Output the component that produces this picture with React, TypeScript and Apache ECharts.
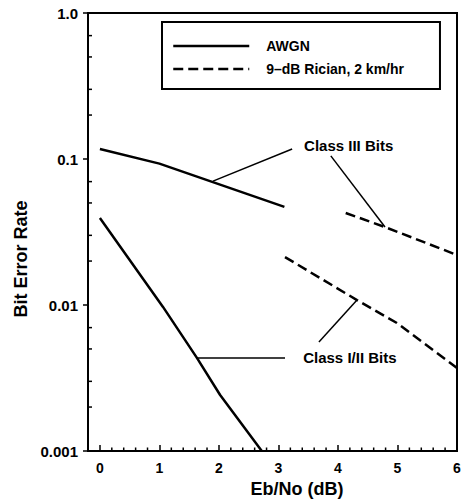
import React, { useEffect, useRef } from "react";
import * as echarts from "echarts";

const FONT = "'Liberation Sans', Arial, Helvetica, sans-serif";

// axes
const xMin = -0.2;
const xMax = 6;
const xTickValues = [0, 1, 2, 3, 4, 5, 6];
const xMinorTicks = [
  0.2, 0.4, 0.6, 0.8, 1.2, 1.4, 1.6, 1.8, 2.2, 2.4, 2.6, 2.8,
  3.2, 3.4, 3.6, 3.8, 4.2, 4.4, 4.6, 4.8, 5.2, 5.4, 5.6, 5.8,
];
const yMin = 0.001;
const yMax = 1;
const yTickLabels = ["0.001", "0.01", "0.1", "1.0"];
const yMinorTicks = [0.002, 0.003, 0.005, 0.007, 0.02, 0.03, 0.05, 0.07, 0.2, 0.3, 0.5, 0.7];

// legend names
const awgnName = "AWGN";
const ricianName = "9–dB Rician, 2 km/hr";

// curves
const awgnClass3X = [0, 1, 3.1];
const awgnClass3Y = [0.117, 0.093, 0.047];
const awgnClass12X = [0, 1.06, 1.63, 2.02, 2.72];
const awgnClass12Y = [0.0394, 0.0097, 0.00434, 0.00242, 0.001];
const ricianClass3X = [4.13, 4.79, 6];
const ricianClass3Y = [0.0427, 0.0342, 0.022];
const ricianClass12X = [3.11, 4.32, 4.99, 6];
const ricianClass12Y = [0.0213, 0.0108, 0.00753, 0.0037];

// annotation leaders
const leaderAX = [1.9, 3.23];
const leaderAY = [0.0705, 0.117];
const leaderBX = [3.88, 4.79];
const leaderBY = [0.105, 0.0342];
const leaderCX = [1.63, 3.11];
const leaderCY = [0.00434, 0.00434];
const leaderDX = [3.68, 4.32];
const leaderDY = [0.00558, 0.0108];

// annotation labels
const noteText = ["Class III Bits", "Class I/II Bits"];
const noteX = [4.18, 4.2];
const noteY = [0.1247, 0.0044];

const zip = (xs: number[], ys: number[]) => xs.map((x, i) => [x, ys[i]]);

export default function App() {
  const ref = useRef<HTMLDivElement>(null);
  useEffect(() => {
    if (!ref.current) return;
    const chart = echarts.init(ref.current, undefined, { renderer: "svg" });
    const curve = (name: string, xs: number[], ys: number[], dashed: boolean) => ({
      type: "line",
      name,
      data: zip(xs, ys),
      symbol: "none",
      silent: true,
      lineStyle: { color: "#000", width: 2.5, type: dashed ? [10, 5] : "solid" },
      itemStyle: { color: "#000" },
      z: 3,
    });
    const leader = (name: string, xs: number[], ys: number[]) => ({
      type: "line",
      name,
      data: zip(xs, ys),
      symbol: "none",
      silent: true,
      lineStyle: { color: "#000", width: 1.5 },
      z: 2,
    });
    chart.setOption({
      animation: false,
      backgroundColor: "#fff",
      textStyle: { fontFamily: FONT },
      grid: {
        left: 88,
        right: 7,
        top: 13,
        bottom: 49,
        show: true,
        borderColor: "#000",
        borderWidth: 2,
      },
      legend: {
        data: [awgnName, ricianName],
        orient: "vertical",
        left: 162,
        top: 22,
        itemWidth: 76,
        itemHeight: 14,
        itemGap: 9,
        padding: [17, 36, 13, 10],
        borderColor: "#000",
        borderWidth: 2,
        selectedMode: false,
        itemStyle: { opacity: 0 },
        lineStyle: { width: 2.5 },
        textStyle: {
          fontFamily: FONT,
          fontSize: 14,
          fontWeight: "bold",
          color: "#000",
          padding: [0, 0, 0, 12],
        },
      },
      xAxis: {
        type: "value",
        min: xMin,
        max: xMax,
        axisLine: { show: true, onZero: false, lineStyle: { color: "#000", width: 2 } },
        axisTick: {
          show: true,
          inside: true,
          length: 6,
          customValues: xTickValues,
          lineStyle: { color: "#000", width: 1.5 },
        },
        axisLabel: {
          customValues: xTickValues,
          margin: 10,
          color: "#000",
          fontFamily: FONT,
          fontSize: 14,
          fontWeight: "bold",
        },
        splitLine: { show: false },
      },
      yAxis: {
        type: "log",
        logBase: 10,
        min: yMin,
        max: yMax,
        axisLine: { show: true, onZero: false, lineStyle: { color: "#000", width: 2 } },
        axisTick: { show: true, inside: false, length: 5, lineStyle: { color: "#000", width: 1.5 } },
        axisLabel: {
          margin: 10,
          color: "#000",
          fontFamily: FONT,
          fontSize: 15,
          fontWeight: "bold",
          formatter: (v: number) => {
            const e = Math.round(Math.log10(v));
            return yTickLabels[e + 3] ?? "";
          },
        },
        splitLine: { show: false },
      },
      series: [
        curve(awgnName, awgnClass3X, awgnClass3Y, false),
        curve(awgnName, awgnClass12X, awgnClass12Y, false),
        curve(ricianName, ricianClass3X, ricianClass3Y, true),
        curve(ricianName, ricianClass12X, ricianClass12Y, true),
        leader("leaderA", leaderAX, leaderAY),
        leader("leaderB", leaderBX, leaderBY),
        leader("leaderC", leaderCX, leaderCY),
        leader("leaderD", leaderDX, leaderDY),
        {
          type: "custom",
          name: "yMinor",
          silent: true,
          data: yMinorTicks.map((v) => [xMin, v]),
          renderItem: (_p: any, api: any) => {
            const pt = api.coord([xMin, api.value(1)]);
            return {
              type: "line",
              shape: { x1: pt[0], y1: pt[1], x2: pt[0] + 4, y2: pt[1] },
              style: { stroke: "#000", lineWidth: 1.5 },
            };
          },
          z: 4,
        },
        {
          type: "custom",
          name: "xMinor",
          silent: true,
          data: xMinorTicks.map((v) => [v, yMin]),
          renderItem: (_p: any, api: any) => {
            const pt = api.coord([api.value(0), yMin]);
            return {
              type: "line",
              shape: { x1: pt[0], y1: pt[1], x2: pt[0], y2: pt[1] - 3.5 },
              style: { stroke: "#000", lineWidth: 1.5 },
            };
          },
          z: 4,
        },
        {
          type: "custom",
          name: "notes",
          silent: true,
          data: noteX.map((x, i) => [x, noteY[i], i]),
          renderItem: (_p: any, api: any) => {
            const pt = api.coord([api.value(0), api.value(1)]);
            return {
              type: "text",
              x: pt[0],
              y: pt[1],
              style: {
                text: noteText[api.value(2)],
                fill: "#000",
                font: `bold 15px ${FONT}`,
                textAlign: "center",
                textVerticalAlign: "middle",
              },
            };
          },
          z: 5,
        },
      ],
      graphic: [
        {
          type: "text",
          x: 21,
          y: 259,
          rotation: Math.PI / 2,
          style: {
            text: "Bit Error Rate",
            fill: "#000",
            font: `bold 18px ${FONT}`,
            textAlign: "center",
            textVerticalAlign: "middle",
          },
        },
        {
          type: "text",
          x: 297,
          y: 489,
          style: {
            text: "Eb/No (dB)",
            fill: "#000",
            font: `bold 18px ${FONT}`,
            textAlign: "center",
            textVerticalAlign: "middle",
          },
        },
      ],
    });
    return () => chart.dispose();
  }, []);
  return <div ref={ref} style={{ width: 464, height: 500, position: "absolute", left: 0, top: 0 }} />;
}
